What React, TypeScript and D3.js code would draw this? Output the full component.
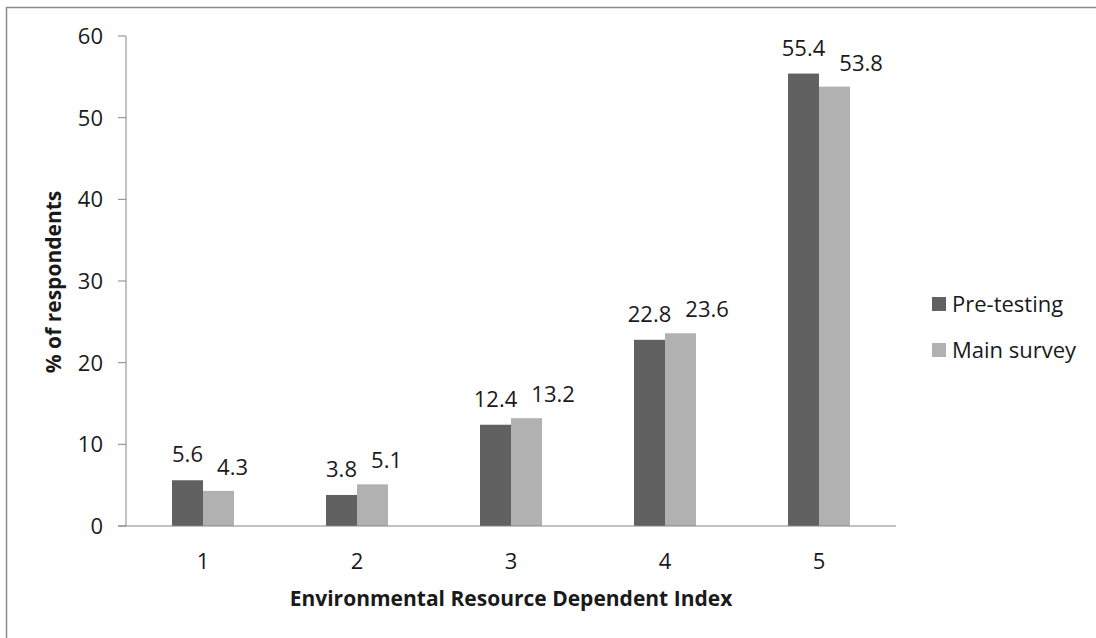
import React from "react";
import * as d3 from "d3";

const categories = ["1", "2", "3", "4", "5"];
const seriesNames = ["Pre-testing", "Main survey"];
const preTesting = [5.6, 3.8, 12.4, 22.8, 55.4];
const mainSurvey = [4.3, 5.1, 13.2, 23.6, 53.8];
const yTicks = [0, 10, 20, 30, 40, 50, 60];
const colors = ["#616161", "#b1b1b1"];

const W = 1096, H = 638;
const left = 126, right = 896, top = 36, bottom = 526;
const font = "'Open Sans', 'Noto Sans', sans-serif";
const fs = 22;

function labelWidth(v: number) {
  const s = String(v);
  let w = 0;
  for (const ch of s) w += ch === "." ? 0.27 * fs : 0.572 * fs;
  return w;
}

export default function App() {
  const band = d3.scaleBand<string>().domain(categories).range([left, right]);
  const inner = d3.scaleBand<string>().domain(seriesNames).range([0, 62]);
  const y = d3.scaleLinear().domain([0, 60]).range([bottom, top]);
  const series = [preTesting, mainSurvey];
  return (
    <svg width={W} height={H} style={{ position: "absolute", left: 0, top: 0, background: "#fff" }} fontFamily={font}>
      <rect x={6.5} y={7.5} width={W + 10} height={H + 10} fill="none" stroke="#8c8c8c" strokeWidth={1.5} />
      {/* y axis */}
      <line x1={left} x2={left} y1={top} y2={bottom} stroke="#868686" />
      {yTicks.map((t) => (
        <g key={t}>
          <line x1={left - 8} x2={left} y1={y(t)} y2={y(t)} stroke="#868686" />
          <text x={103} y={y(t)} dy="0.36em" textAnchor="end" fontSize={fs} fill="#1a1a1a">{t}</text>
        </g>
      ))}
      {/* bars */}
      {categories.map((c, i) => {
        const cx = (band(c) as number) + band.bandwidth() / 2;
        const g0 = cx - 31;
        const darkLabelRight = g0 + inner.bandwidth() / 2 + labelWidth(preTesting[i]) / 2;
        return (
          <g key={c}>
            {series.map((s, j) => {
              const xx = g0 + (inner(seriesNames[j]) as number);
              const bw = inner.bandwidth();
              return (
                <g key={j}>
                  <rect x={xx} y={y(s[i])} width={bw} height={bottom - y(s[i])} fill={colors[j]} />
                  {j === 0 ? (
                    <text x={xx + bw / 2} y={y(s[i]) - 18} textAnchor="middle" fontSize={fs} fill="#1a1a1a">{s[i]}</text>
                  ) : (
                    <text x={darkLabelRight + 14} y={y(s[i]) - 16} textAnchor="start" fontSize={fs} fill="#1a1a1a">{s[i]}</text>
                  )}
                </g>
              );
            })}
          </g>
        );
      })}
      {/* x axis */}
      <line x1={left - 8} x2={right} y1={bottom} y2={bottom} stroke="#868686" />
      {categories.map((c) => (
        <text key={c} x={(band(c) as number) + band.bandwidth() / 2} y={561} dy="0.36em" textAnchor="middle" fontSize={fs} fill="#1a1a1a">{c}</text>
      ))}
      <text x={511} y={606} textAnchor="middle" fontSize={21} fontWeight="bold" fill="#1a1a1a">Environmental Resource Dependent Index</text>
      <text transform={`translate(53,${282}) rotate(-90)`} dy="0.36em" textAnchor="middle" fontSize={21} fontWeight="bold" fill="#1a1a1a">% of respondents</text>
      {/* legend */}
      {seriesNames.map((n, j) => (
        <g key={n}>
          <rect x={932} y={297 + j * 46} width={14} height={14} fill={colors[j]} />
          <text x={952} y={304 + j * 46} dy="0.36em" fontSize={fs} fill="#1a1a1a">{n}</text>
        </g>
      ))}
    </svg>
  );
}
